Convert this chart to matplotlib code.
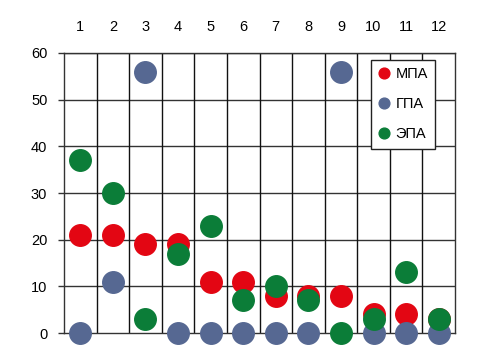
import matplotlib
matplotlib.use('Agg')
import matplotlib.pyplot as plt

plt.rcParams['font.family'] = ['Liberation Sans Narrow', 'Liberation Sans', 'DejaVu Sans']

# data
months = [1, 2, 3, 4, 5, 6, 7, 8, 9, 10, 11, 12]
mpa = [21, 21, 19, 19, 11, 11, 8, 8, 8, 4, 4, 3]
gpa = [0, 11, 56, 0, 0, 0, 0, 0, 56, 0, 0, 0]
epa = [37, 30, 3, 17, 23, 7, 10, 7, 0, 3, 13, 3]
labels = ['МПА', 'ГПА', 'ЭПА']
colors = ['#e30613', '#566892', '#0b7d38']

fig = plt.figure(figsize=(4.78, 3.54), dpi=100)
ax = fig.add_axes([0.1339, 0.0593, 0.818, 0.791])

for vals, lab, col in zip([mpa, gpa, epa], labels, colors):
    ax.plot(months, vals, 'o', color=col, markersize=15.5, label=lab,
            clip_on=False, zorder=3)

ax.set_xlim(0.5, 12.5)
ax.set_ylim(0, 60)

# grid: horizontal at each 10, vertical between months
ax.set_yticks(range(0, 61, 10))
for y in range(10, 61, 10):
    ax.axhline(y, color='#333333', lw=1, zorder=1)
for x in [m + 0.5 for m in months[:-1]]:
    ax.axvline(x, color='#111111', lw=1, zorder=1)

for s in ['top', 'right', 'left', 'bottom']:
    ax.spines[s].set_color('#333333')
    ax.spines[s].set_linewidth(1)

ax.xaxis.tick_top()
ax.set_xticks(months)
ax.tick_params(axis='x', length=0, pad=14, labelsize=10.5)
ax.tick_params(axis='y', length=4, width=1, color='#333333', pad=8, labelsize=10.5)

leg = ax.legend(loc='upper left', bbox_to_anchor=(0.785, 0.975), borderaxespad=0,
                markerscale=0.5, fontsize=10.5, labelspacing=1.1, handletextpad=0.4,
                handlelength=0.8, borderpad=0.5, fancybox=False, framealpha=1)
leg.get_frame().set_edgecolor('#222222')
leg.get_frame().set_linewidth(1)

fig.savefig('out.png', dpi=100)
